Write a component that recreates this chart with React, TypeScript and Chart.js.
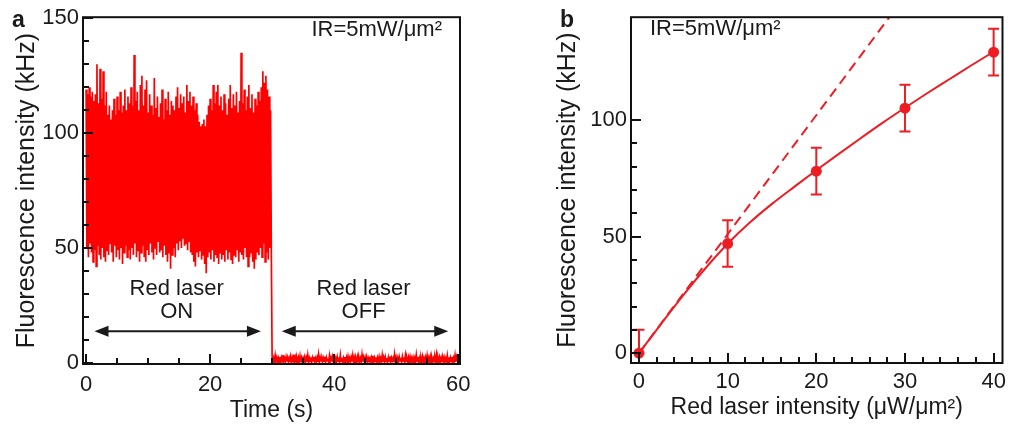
import React, { useEffect, useRef } from 'react';
import { Chart, registerables } from 'chart.js';

Chart.register(...registerables);

const FONT = "'Liberation Sans', Arial, sans-serif";
const TEXT = '#1a1a1a';
const RED_A = '#ff0000';
const RED_B = '#ee1d23';

// ---------- Panel a: time trace (kHz) ----------
const onStart = 0;
const onStep = 0.25;
const onHigh = [
  119, 117, 120, 116, 118, 114, 117, 130, 113, 128, 115, 127, 112, 118, 108, 112,
  106, 110, 115, 108, 116, 110, 118, 109, 112, 119, 110, 116, 113, 120, 112, 134,
  114, 118, 110, 121, 125, 112, 119, 123, 109, 117, 112, 108, 124, 111, 116, 107,
  113, 119, 106, 115, 110, 118, 108, 114, 112, 110, 116, 120, 111, 117, 113, 116,
  109, 121, 114, 118, 112, 116, 110, 113, 108, 105, 103, 104, 106, 103, 108, 112,
  115, 110, 121, 113, 118, 121, 112, 116, 110, 117, 113, 108, 115, 121, 111, 117,
  112, 118, 109, 114, 135, 113, 119, 110, 116, 121, 111, 117, 109, 115, 112, 118,
  114, 120, 127, 122, 125, 119, 116, 110,
];
const onLow = [
  50, 46, 52, 48, 44, 49, 42, 51, 47, 45, 50, 46, 44, 49, 47, 52,
  48, 44, 51, 46, 49, 45, 50, 43, 48, 51, 46, 49, 45, 50, 47, 52,
  46, 49, 44, 48, 51, 46, 44, 49, 47, 52, 48, 45, 50, 47, 53, 48,
  49, 46, 51, 47, 44, 48, 41, 47, 50, 46, 52, 49, 53, 50, 54, 51,
  52, 49, 53, 48, 47, 44, 42, 48, 46, 49, 45, 47, 43, 39, 46, 48,
  45, 49, 44, 47, 46, 43, 48, 45, 47, 44, 49, 45, 48, 45, 43, 47,
  46, 49, 44, 48, 47, 45, 50, 46, 42, 46, 48, 44, 41, 45, 48, 47,
  50, 46, 52, 44, 48, 45, 50, 47,
];
const offStart = 30;
const offStep = 0.25;
const offHigh = [
  2.4, 2.1, 3.2, 2.3, 2.0, 2.6, 2.2, 3.4, 2.1, 2.5, 2.3, 2.0, 2.7, 2.2, 3.6, 2.4,
  2.1, 2.3, 2.9, 2.2, 2.0, 2.5, 2.3, 3.3, 2.1, 2.4, 2.2, 2.6, 2.0, 2.3, 3.5, 2.2,
  2.4, 2.1, 2.7, 2.3, 2.0, 3.1, 2.2, 2.5, 2.3, 2.1, 2.6, 2.4, 3.4, 2.2, 2.0, 2.5,
  2.3, 2.8, 2.1, 2.4, 3.2, 2.2, 2.0, 2.6, 2.3, 2.1, 3.5, 2.4, 2.2, 2.5, 2.0, 2.7,
  2.3, 3.1, 2.1, 2.4, 2.2, 2.6, 2.0, 3.3, 2.3, 2.5, 2.1, 2.4, 2.8, 2.2, 2.0, 3.6,
  2.3, 2.1, 2.5, 2.2, 2.7, 2.4, 3.2, 2.0, 2.3, 2.6, 2.1, 2.4, 2.2, 3.4, 2.5, 2.0,
  2.3, 2.7, 2.1, 2.4, 3.1, 2.2, 2.6, 2.3, 2.0, 2.5, 3.5, 2.2, 2.4, 2.1, 2.7, 2.3,
  2.0, 3.2, 2.4, 2.2, 2.6, 2.1, 3.3, 2.5,
];
const offLow = [
  0.6, 0.3, 0.8, 0.5, 0.2, 0.7, 0.4, 0.9, 0.3, 0.6, 0.5, 0.2, 0.7, 0.4, 0.8, 0.3,
  0.6, 0.5, 0.2, 0.7, 0.4, 0.9, 0.3, 0.6, 0.5, 0.2, 0.8, 0.4, 0.7, 0.3, 0.6, 0.5,
  0.2, 0.7, 0.4, 0.9, 0.3, 0.6, 0.5, 0.2, 0.8, 0.4, 0.7, 0.3, 0.6, 0.5, 0.2, 0.7,
  0.4, 0.9, 0.3, 0.6, 0.5, 0.2, 0.7, 0.4, 0.8, 0.3, 0.6, 0.5, 0.2, 0.7, 0.4, 0.9,
  0.3, 0.6, 0.5, 0.2, 0.8, 0.4, 0.7, 0.3, 0.6, 0.5, 0.2, 0.7, 0.4, 0.9, 0.3, 0.6,
  0.5, 0.2, 0.8, 0.4, 0.7, 0.3, 0.6, 0.5, 0.2, 0.7, 0.4, 0.9, 0.3, 0.6, 0.5, 0.2,
  0.7, 0.4, 0.8, 0.3, 0.6, 0.5, 0.2, 0.7, 0.4, 0.9, 0.3, 0.6, 0.5, 0.2, 0.8, 0.4,
  0.7, 0.3, 0.6, 0.5, 0.2, 0.7, 0.4, 0.9,
];
const xTicksA = [0, 20, 40, 60];
const yTicksA = [0, 50, 100, 150];

// ---------- Panel b: intensity dependence ----------
const laserX = [0, 10, 20, 30, 40];
const fluoY = [0, 47, 78, 105, 129];
const fluoErr = [10, 10, 10, 10, 10];
const fitX = [0, 2.5, 5, 7.5, 10, 12.5, 15, 17.5, 20, 22.5, 25, 27.5, 30, 32.5, 35, 37.5, 40];
const fitY = [0, 12.6, 24.9, 36.4, 46.9, 56.0, 64.0, 71.3, 78.4, 85.3, 92.1, 98.8, 105.2, 111.4, 117.4, 123.4, 129.2];
const linX = [0, 30];
const linY = [0, 153];
const xTicksB = [0, 10, 20, 30, 40];
const yTicksB = [0, 50, 100];

type Pt = { x: number; y: number };

function buildTrace(start: number, step: number, highs: number[], lows: number[]): Pt[] {
  const pts: Pt[] = [];
  for (let i = 0; i < highs.length; i++) {
    pts.push({ x: start + i * step, y: highs[i] });
    pts.push({ x: start + i * step + step / 2, y: lows[i] });
  }
  return pts;
}

function zip(xs: number[], ys: number[]): Pt[] {
  return xs.map((x, i) => ({ x, y: ys[i] }));
}

function frameTicksPlugin(xMajor: number[], xMinor: number, yMajor: number[], yMinor: number) {
  return {
    id: 'frameTicks',
    afterDatasetsDraw(chart: any) {
      const { ctx, chartArea: a, scales } = chart;
      const xs = scales.x;
      const ys = scales.y;
      ctx.save();
      ctx.strokeStyle = '#111';
      ctx.lineWidth = 2;
      ctx.beginPath();
      const major = 10;
      const minor = 6;
      for (let v = xMajor[0]; v <= xMajor[xMajor.length - 1] + 1e-9; v += xMinor) {
        const len = xMajor.some((m) => Math.abs(m - v) < 1e-9) ? major : minor;
        const px = Math.round(xs.getPixelForValue(v));
        ctx.moveTo(px, a.bottom);
        ctx.lineTo(px, a.bottom - len);
      }
      for (let v = yMajor[0]; v <= yMajor[yMajor.length - 1] + 1e-9; v += yMinor) {
        const len = yMajor.some((m) => Math.abs(m - v) < 1e-9) ? major : minor;
        const py = Math.round(ys.getPixelForValue(v));
        ctx.moveTo(a.left, py);
        ctx.lineTo(a.left + len, py);
      }
      ctx.stroke();
      ctx.strokeRect(a.left, a.top, a.right - a.left, a.bottom - a.top);
      ctx.restore();
    },
  };
}

function drawArrow(ctx: CanvasRenderingContext2D, x1: number, x2: number, y: number) {
  const head = 14;
  const hw = 5.5;
  ctx.beginPath();
  ctx.moveTo(x1 + head - 2, y);
  ctx.lineTo(x2 - head + 2, y);
  ctx.stroke();
  ctx.beginPath();
  ctx.moveTo(x1, y);
  ctx.lineTo(x1 + head, y - hw);
  ctx.lineTo(x1 + head, y + hw);
  ctx.closePath();
  ctx.fill();
  ctx.beginPath();
  ctx.moveTo(x2, y);
  ctx.lineTo(x2 - head, y - hw);
  ctx.lineTo(x2 - head, y + hw);
  ctx.closePath();
  ctx.fill();
}

const annotA = {
  id: 'annotA',
  afterDraw(chart: any) {
    const { ctx, chartArea: a, scales } = chart;
    const xs = scales.x;
    const ys = scales.y;
    ctx.save();
    ctx.fillStyle = TEXT;
    ctx.strokeStyle = TEXT;
    ctx.lineWidth = 2;
    ctx.font = `22px ${FONT}`;
    ctx.textBaseline = 'middle';
    ctx.textAlign = 'right';
    ctx.fillText('IR=5mW/μm²', a.right - 18, a.top + 13);
    ctx.textAlign = 'center';
    ctx.fillText('Red laser', xs.getPixelForValue(14.6), ys.getPixelForValue(32.4));
    ctx.fillText('ON', xs.getPixelForValue(14.6), ys.getPixelForValue(22.3));
    ctx.fillText('Red laser', xs.getPixelForValue(44.75), ys.getPixelForValue(32.4));
    ctx.fillText('OFF', xs.getPixelForValue(44.75), ys.getPixelForValue(22.3));
    const ay = ys.getPixelForValue(13.8);
    drawArrow(ctx, xs.getPixelForValue(1.35), xs.getPixelForValue(28.2), ay);
    drawArrow(ctx, xs.getPixelForValue(31.55), xs.getPixelForValue(58.4), ay);
    ctx.font = `bold 23px ${FONT}`;
    ctx.textAlign = 'left';
    ctx.textBaseline = 'alphabetic';
    ctx.fillText('a', 12, 27);
    ctx.restore();
  },
};

const annotB = {
  id: 'annotB',
  afterDatasetsDraw(chart: any) {
    const { ctx, chartArea: a, scales } = chart;
    const xs = scales.x;
    const ys = scales.y;
    ctx.save();
    ctx.beginPath();
    ctx.rect(a.left, a.top, a.right - a.left, a.bottom - a.top);
    ctx.clip();
    ctx.strokeStyle = RED_B;
    ctx.lineWidth = 2;
    ctx.beginPath();
    for (let i = 0; i < laserX.length; i++) {
      const px = xs.getPixelForValue(laserX[i]);
      const top = ys.getPixelForValue(fluoY[i] + fluoErr[i]);
      const bot = ys.getPixelForValue(fluoY[i] - fluoErr[i]);
      ctx.moveTo(px, top);
      ctx.lineTo(px, bot);
      ctx.moveTo(px - 5.5, top);
      ctx.lineTo(px + 5.5, top);
      ctx.moveTo(px - 5.5, bot);
      ctx.lineTo(px + 5.5, bot);
    }
    ctx.stroke();
    ctx.restore();
  },
  afterDraw(chart: any) {
    const { ctx, chartArea: a } = chart;
    ctx.save();
    ctx.fillStyle = TEXT;
    ctx.font = `22px ${FONT}`;
    ctx.textBaseline = 'middle';
    ctx.textAlign = 'left';
    ctx.fillText('IR=5mW/μm²', a.left + 19, a.top + 12);
    ctx.font = `bold 23px ${FONT}`;
    ctx.textBaseline = 'alphabetic';
    ctx.fillText('b', 60, 27);
    ctx.restore();
  },
};

function axisBase(ticks: number[], min: number, max: number, size: number, horizontal: boolean, title: string, titlePad: any, tickPad: number, titleSize: number) {
  return {
    type: 'linear',
    min,
    max,
    afterBuildTicks: (axis: any) => {
      axis.ticks = ticks.map((v) => ({ value: v }));
    },
    afterFit: (axis: any) => {
      if (horizontal) axis.height = size;
      else axis.width = size;
    },
    grid: { display: false, drawTicks: false },
    border: { display: false },
    ticks: { font: { family: FONT, size: 22 }, color: TEXT, padding: tickPad, maxRotation: 0, autoSkip: false },
    title: { display: true, text: title, color: TEXT, font: { family: FONT, size: titleSize }, padding: titlePad },
  };
}

function PanelA() {
  const ref = useRef<HTMLCanvasElement | null>(null);
  useEffect(() => {
    if (!ref.current) return;
    const data = [...buildTrace(onStart, onStep, onHigh, onLow), ...buildTrace(offStart, offStep, offHigh, offLow)];
    const chart = new Chart(ref.current, {
      type: 'line',
      data: {
        datasets: [
          {
            data,
            borderColor: RED_A,
            borderWidth: 1.7,
            pointRadius: 0,
            tension: 0,
          },
        ],
      },
      options: {
        animation: false,
        responsive: false,
        parsing: false as any,
        layout: { padding: { top: 14, right: 40, left: 0, bottom: 0 } },
        plugins: { legend: { display: false }, tooltip: { enabled: false } },
        scales: {
          x: axisBase(xTicksA, -0.5, 60.3, 63, true, 'Time (s)', { top: 0, bottom: 3 }, 8, 23) as any,
          y: axisBase(yTicksA, -0.5, 150.5, 83, false, 'Fluorescence intensity (kHz)', { top: 12, bottom: 0 }, 4, 25) as any,
        },
      },
      plugins: [frameTicksPlugin(xTicksA, 5, yTicksA, 10), annotA],
    });
    return () => chart.destroy();
  }, []);
  return <canvas ref={ref} width={500} height={427} style={{ position: 'absolute', left: 0, top: 0, width: 500, height: 427 }} />;
}

function PanelB() {
  const ref = useRef<HTMLCanvasElement | null>(null);
  useEffect(() => {
    if (!ref.current) return;
    const chart = new Chart(ref.current, {
      type: 'line',
      data: {
        datasets: [
          {
            data: zip(linX, linY),
            borderColor: RED_B,
            borderWidth: 2,
            borderDash: [10, 6],
            pointRadius: 0,
            tension: 0,
          },
          {
            data: zip(fitX, fitY),
            borderColor: RED_B,
            borderWidth: 2,
            pointRadius: 0,
            cubicInterpolationMode: 'monotone',
          },
          {
            data: zip(laserX, fluoY),
            showLine: false,
            borderColor: RED_B,
            backgroundColor: RED_B,
            pointRadius: 5.5,
            pointBorderWidth: 0,
          },
        ],
      },
      options: {
        animation: false,
        responsive: false,
        parsing: false as any,
        layout: { padding: { top: 13, right: 5, left: 0, bottom: 0 } },
        plugins: { legend: { display: false }, tooltip: { enabled: false } },
        scales: {
          x: axisBase(xTicksB, -0.9, 41, 64, true, 'Red laser intensity (μW/μm²)', { top: 0, bottom: 6 }, 6, 23) as any,
          y: axisBase(yTicksB, -4.2, 144, 131, false, 'Fluorescence intensity (kHz)', { top: 53, bottom: 0 }, 4, 25) as any,
        },
      },
      plugins: [annotB, frameTicksPlugin(xTicksB, 2, yTicksB, 10)],
    });
    return () => chart.destroy();
  }, []);
  return <canvas ref={ref} width={512} height={427} style={{ position: 'absolute', left: 500, top: 0, width: 512, height: 427 }} />;
}

export default function App() {
  return (
    <div style={{ position: 'absolute', left: 0, top: 0, width: 1012, height: 427, background: '#fff', overflow: 'hidden' }}>
      <PanelA />
      <PanelB />
    </div>
  );
}
